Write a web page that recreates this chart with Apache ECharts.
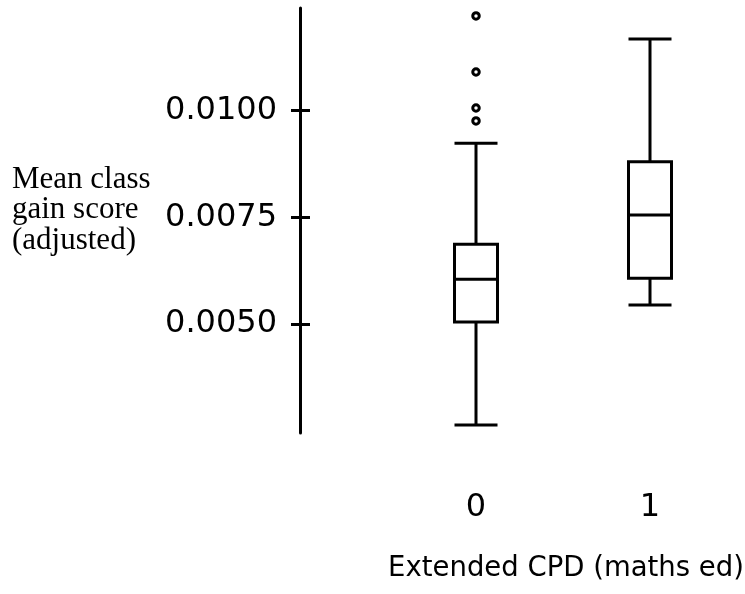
<!DOCTYPE html>
<html>
<head>
<meta charset="utf-8">
<script src="https://cdn.jsdelivr.net/npm/echarts@6/dist/echarts.min.js"></script>
<style>
html,body{margin:0;padding:0;background:#fff;}
#chart{width:745px;height:594px;}
</style>
</head>
<body>
<div id="chart"></div>
<script>
// ---- data ----
var categories = ['0', '1'];
// [lower whisker, Q1, median, Q3, upper whisker]
var group0Box = [0.002633, 0.005047, 0.006048, 0.006868, 0.009235];
var group1Box = [0.005445, 0.006071, 0.007555, 0.008804, 0.011680];
var group0Outliers = [0.012219, 0.010906, 0.010062, 0.009758];
var group1Outliers = [];
var yTickValues = [0.0050, 0.0075, 0.0100];
var yAxisTitle = 'Mean class\ngain score\n(adjusted)';
var xAxisTitle = 'Extended CPD (maths ed)';

var outlierData = [];
group0Outliers.forEach(function (v) { outlierData.push([0, v]); });
group1Outliers.forEach(function (v) { outlierData.push([1, v]); });

var chart = echarts.init(document.getElementById('chart'));
var yMin = 0.002445, yMax = 0.012406;
var sansFont = 'DejaVu Sans';
chart.setOption({
  animation: false,
  backgroundColor: '#ffffff',
  grid: { left: 389, right: 8, top: 8, bottom: 161, outerBoundsMode: 'none', containLabel: false },
  xAxis: {
    type: 'category',
    data: categories,
    axisLine: { show: false },
    axisTick: { show: false },
    splitLine: { show: false },
    axisLabel: { color: '#000', fontSize: 32, fontFamily: sansFont, margin: 59 },
    name: xAxisTitle,
    nameLocation: 'middle',
    nameGap: 122,
    nameTextStyle: { color: '#000', fontSize: 27.5, fontFamily: sansFont, padding: [0, 0, 0, 6] }
  },
  yAxis: [{
    type: 'value',
    min: yMin, max: yMax,
    position: 'left',
    offset: 89,
    axisLine: { show: true, lineStyle: { color: '#000', width: 3 } },
    axisTick: { show: true, customValues: yTickValues, length: 9, lineStyle: { color: '#000', width: 3 } },
    axisLabel: {
      show: true, customValues: yTickValues, margin: 23,
      color: '#000', fontSize: 32, fontFamily: sansFont,
      padding: [0, 0, 6, 0],
      formatter: function (v) { return v.toFixed(4); }
    },
    splitLine: { show: false }
  }, {
    type: 'value',
    min: yMin, max: yMax,
    position: 'left',
    offset: 89,
    axisLine: { show: false },
    axisTick: { show: true, inside: true, customValues: yTickValues, length: 10, lineStyle: { color: '#000', width: 3 } },
    axisLabel: { show: false },
    splitLine: { show: false }
  }],
  graphic: [{
    type: 'text',
    left: 12,
    top: 164,
    style: {
      text: yAxisTitle,
      fontSize: 31,
      fontFamily: 'Liberation Serif',
      lineHeight: 30.5,
      fill: '#000'
    }
  }],
  series: [{
    type: 'boxplot',
    yAxisIndex: 0,
    data: [group0Box, group1Box],
    boxWidth: [43, 43],
    itemStyle: { color: '#fff', borderColor: '#000', borderWidth: 3 }
  }, {
    type: 'scatter',
    xAxisIndex: 0,
    yAxisIndex: 0,
    z: 5,
    data: outlierData,
    symbol: 'circle',
    symbolSize: 6.5,
    itemStyle: { color: '#fff', borderColor: '#000', borderWidth: 3, opacity: 1 }
  }]
});
</script>
</body>
</html>
